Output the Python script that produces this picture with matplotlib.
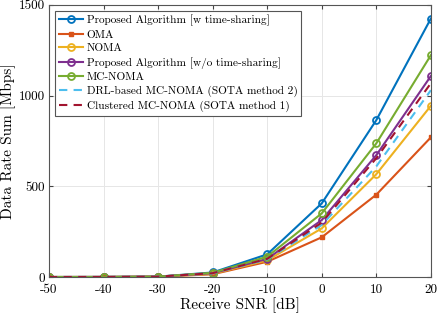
import matplotlib
matplotlib.use("Agg")
import matplotlib.pyplot as plt

snr = [-50, -40, -30, -20, -10, 0, 10, 20]
prop_ts = [0, 0.3, 2, 25, 125, 406, 865, 1425]
oma = [0, 0.2, 1.5, 15, 84, 219, 454, 770]
noma = [0, 0.2, 1.8, 18, 92, 268, 567, 944]
prop_nots = [0, 0.3, 2, 21, 100, 314, 672, 1108]
mc_noma = [0, 0.3, 2, 23, 112, 351, 737, 1223]
drl = [0, 0.3, 2, 20, 97, 287, 610, 1030]
clustered = [0, 0.3, 2, 21, 100, 300, 655, 1068]

labels = ["Proposed Algorithm [w time-sharing]", "OMA", "NOMA",
          "Proposed Algorithm [w/o time-sharing]", "MC-NOMA",
          "DRL-based MC-NOMA (SOTA method 2)", "Clustered MC-NOMA (SOTA method 1)"]

plt.rcParams['font.family'] = ['cmr10', 'DejaVu Serif']
plt.rcParams['axes.unicode_minus'] = False
plt.rcParams['mathtext.fontset'] = 'cm'

fig = plt.figure(figsize=(4.37, 3.16), dpi=100)
ax = fig.add_axes([0.112, 0.1234, 0.874, 0.861])

lw = 1.5
ax.plot(snr, prop_ts, color='#0072BD', lw=lw, marker='o', ms=5, mfc='none', mew=1.3, label=labels[0])
ax.plot(snr, oma, color='#D95319', lw=lw, marker='s', ms=3.5, label=labels[1])
ax.plot(snr, noma, color='#EDB120', lw=lw, marker='o', ms=5, mfc='none', mew=1.3, label=labels[2])
ax.plot(snr, prop_nots, color='#7E2F8E', lw=lw, marker='o', ms=5, mfc='none', mew=1.3, label=labels[3])
ax.plot(snr, mc_noma, color='#77AC30', lw=lw, marker='o', ms=5, mfc='none', mew=1.3, label=labels[4])
ax.plot(snr, drl, color='#4DBEEE', lw=lw, ls=(0, (4, 3)), label=labels[5])
ax.plot(snr, clustered, color='#A2142F', lw=lw, ls=(0, (4, 3)), label=labels[6])

ax.set_xlim(-50, 20)
ax.set_ylim(0, 1500)
ax.set_xticks(range(-50, 21, 10))
ax.set_yticks([0, 500, 1000, 1500])
ax.grid(True, color='#e6e6e6', lw=0.7)
ax.set_axisbelow(True)
ax.tick_params(direction='in', top=True, right=True, labelsize=9.5, length=3,
               color='#444444')
ax.tick_params(axis='x', pad=5)
ax.tick_params(axis='y', pad=3)
for s in ax.spines.values():
    s.set_color('#555555')
    s.set_linewidth(0.8)
ax.set_xlabel('Receive SNR [dB]', fontsize=11, labelpad=1)
ax.set_ylabel('Data Rate Sum [Mbps]', fontsize=11, labelpad=2)

leg = ax.legend(loc='upper left', fontsize=8.1, fancybox=False, framealpha=1,
                edgecolor='#555555', borderpad=0.35, labelspacing=0.33,
                handlelength=2.2, handletextpad=0.3, borderaxespad=0.5)
leg.get_frame().set_linewidth(0.8)

fig.savefig('out.png', dpi=100)
